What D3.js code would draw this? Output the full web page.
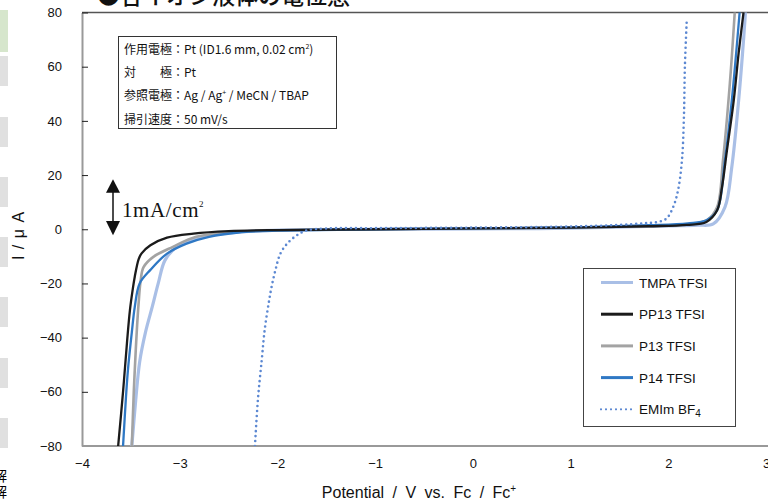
<!DOCTYPE html>
<html>
<head>
<meta charset="utf-8">
<script src="https://cdnjs.cloudflare.com/ajax/libs/d3/7.8.5/d3.min.js"></script>
<style>
  body { margin: 0; background: #fff; }
  svg { display: block; font-family: "Liberation Sans", Arial, sans-serif; }
  .jp { font-family: "Noto Sans CJK JP", sans-serif; }
</style>
</head>
<body>
<svg width="768" height="500"></svg>
<script>
// potential (V vs Fc/Fc+) and current (uA)
var tmpa = [[-3.49,-80],[-3.45,-63],[-3.41,-49],[-3.35,-38],[-3.28,-28.5],[-3.22,-20],[-3.15,-11.4],
            [-3.03,-6.5],[-2.83,-3.4],[-2.6,-1.8],[-2.2,-0.6],[-1.5,-0.1],[0,0.1],[1,0.4],[2,1.2],[2.3,1.5],
            [2.46,2],[2.58,8.2],[2.65,23],[2.72,47.6],[2.76,65],[2.79,80]];
var pp13 = [[-3.63,-80],[-3.58,-60],[-3.54,-42],[-3.51,-30],[-3.48,-22],[-3.46,-17.5],[-3.42,-11],[-3.39,-8.9],
            [-3.30,-5.9],[-3.13,-3.1],[-2.86,-1.6],[-2.5,-0.7],[-2.0,-0.3],[-1.0,0],[0,0.3],[1.0,0.6],[1.8,1.1],
            [2.19,1.6],[2.39,2.7],[2.50,7],[2.55,15.6],[2.60,29],[2.67,47.6],[2.72,65],[2.77,80]];
var p13 = [[-3.49,-80],[-3.47,-60],[-3.46,-52],[-3.44,-38],[-3.42,-27],[-3.40,-19],[-3.37,-14],[-3.27,-10.2],
           [-3.07,-6.5],[-2.83,-2.8],[-2.5,-1.2],[-2.0,-0.4],[-1,0],[0,0.3],[1,0.6],[1.8,1.2],[2.2,1.8],
           [2.4,3.5],[2.5,8.2],[2.56,25.5],[2.63,53.8],[2.68,80]];
var p14 = [[-3.58,-80],[-3.55,-62],[-3.53,-52],[-3.49,-38],[-3.46,-28.7],[-3.41,-20],[-3.30,-15],[-3.13,-9],
           [-2.93,-5.3],[-2.7,-2.8],[-2.4,-1.2],[-2.0,-0.5],[-1,0],[0,0.3],[1,0.7],[1.8,1.5],[2.2,2.2],
           [2.39,3.3],[2.50,7],[2.58,25.5],[2.65,47.6],[2.73,80]];
var emim = [[-2.23,-80],[-2.20,-63],[-2.16,-48],[-2.13,-37],[-2.09,-27.4],[-2.06,-21.3],[-2.02,-15],[-1.97,-9],
            [-1.90,-5.3],[-1.80,-2.2],[-1.70,-0.4],[-1.5,0.3],[-1,0.4],[0,0.6],[1,1.0],[1.5,1.6],[1.75,2.2],
            [1.88,2.6],[1.98,3.9],[2.05,8.2],[2.10,14.4],[2.14,25.5],[2.16,41.4],[2.17,60],[2.19,78]];

var names = ['TMPA TFSI', 'PP13 TFSI', 'P13 TFSI', 'P14 TFSI', 'EMIm BF'];
var xTicks = [-4, -3, -2, -1, 0, 1, 2, 3];
var yTicks = [-80, -60, -40, -20, 0, 20, 40, 60, 80];
var infoLines = ['作用電極：Pt (ID1.6 mm, 0.02 cm', '対　　極：Pt', '参照電極：Ag / Ag', '掃引速度：50 mV/s'];

var svg = d3.select('svg');

// page bits around the chart
var strip = [[10, 52, '#d6e6cc'], [56, 86], [117, 147], [177, 207], [237, 267], [297, 327], [358, 388], [418, 448]];
strip.forEach(function(s) {
    svg.append('rect').attr('x', 0).attr('y', s[0]).attr('width', 8).attr('height', s[1] - s[0])
        .attr('fill', s[2] || '#e0e0e0');
});
svg.append('text').attr('class', 'jp').attr('x', -7).attr('y', 481).attr('font-size', 14).text('解');
svg.append('text').attr('class', 'jp').attr('x', -7).attr('y', 497).attr('font-size', 14).text('解');
svg.append('text').attr('class', 'jp').attr('x', 97).attr('y', 4).attr('font-size', 23)
    .attr('font-weight', 500).attr('fill', '#111').text('●各イオン液体の電位窓');

var x = d3.scaleLinear().domain([-4, 3]).range([82, 766]);
var y = d3.scaleLinear().domain([-80, 80]).range([446, 12.5]);

svg.append('defs').append('clipPath').attr('id', 'plot')
  .append('rect').attr('x', 82).attr('y', 12.5).attr('width', 700).attr('height', 433.5);

// frame
svg.append('line').attr('x1', 82).attr('x2', 768).attr('y1', y(80)).attr('y2', y(80))
    .attr('stroke', '#555').attr('stroke-width', 1.5);

var yAxis = d3.axisLeft(y).tickValues(yTicks).tickSizeInner(-6).tickSizeOuter(0).tickPadding(20)
    .tickFormat(d3.format('d'));
var gy = svg.append('g').attr('transform', 'translate(82,0)').call(yAxis);
gy.select('.domain').attr('stroke', '#999').attr('stroke-width', 2);
gy.selectAll('.tick line').attr('stroke', '#222');
gy.selectAll('text').attr('font-size', 13).attr('fill', '#111').attr('font-family', '"Liberation Sans", Arial, sans-serif');

var xAxis = d3.axisBottom(x).tickValues(xTicks).tickSize(0).tickPadding(13).tickFormat(d3.format('d'));
var gx = svg.append('g').attr('transform', 'translate(0,' + y(-80) + ')').call(xAxis);
gx.select('.domain').attr('stroke', '#999').attr('stroke-width', 2).attr('d', 'M82,0H768');
gx.selectAll('text').attr('font-size', 13).attr('fill', '#111').attr('font-family', '"Liberation Sans", Arial, sans-serif');

// axis titles
svg.append('text').attr('transform', 'translate(24,236) rotate(-90)').attr('text-anchor', 'middle')
    .attr('font-size', 16).attr('word-spacing', 2).attr('fill', '#111').text('I / μ A');
var xl = svg.append('text').attr('x', 419).attr('y', 498).attr('text-anchor', 'middle')
    .attr('font-size', 16).attr('word-spacing', 4).attr('fill', '#111');
xl.append('tspan').text('Potential / V vs. Fc / Fc');
xl.append('tspan').attr('font-size', 10).attr('dy', -6).text('+');

// curves
var line = d3.line().x(function(d) { return x(d[0]); }).y(function(d) { return y(d[1]); })
    .curve(d3.curveCatmullRom.alpha(0.5));
var series = [
    {data: tmpa, color: '#a9bfe6', width: 3.2},
    {data: p13, color: '#a3a3a3', width: 2.6},
    {data: p14, color: '#2f78c4', width: 2.3},
    {data: pp13, color: '#1b1b1b', width: 2.3},
    {data: emim, color: '#5c88d2', width: 2.6, dash: '0 5'}
];
var gc = svg.append('g').attr('clip-path', 'url(#plot)');
series.forEach(function(s) {
    gc.append('path').datum(s.data).attr('d', line).attr('fill', 'none')
        .attr('stroke', s.color).attr('stroke-width', s.width)
        .attr('stroke-linecap', 'round').attr('stroke-linejoin', 'round')
        .attr('stroke-dasharray', s.dash || null);
});

// info box
svg.append('rect').attr('x', 118.5).attr('y', 36.5).attr('width', 218).attr('height', 92)
    .attr('fill', '#fff').attr('stroke', '#333').attr('stroke-width', 1);
infoLines.forEach(function(t, i) {
    var tx = svg.append('text').attr('class', 'jp').attr('x', 124).attr('y', 54 + i * 23.2)
        .attr('font-size', 12).attr('fill', '#111');
    tx.append('tspan').text(t);
    if (i === 0) {
        tx.append('tspan').attr('font-size', 7).attr('dy', -5).text('2');
        tx.append('tspan').attr('dy', 5).text(')');
    }
    if (i === 2) {
        tx.append('tspan').attr('font-size', 7).attr('dy', -5).text('+');
        tx.append('tspan').attr('dy', 5).text(' / MeCN / TBAP');
    }
});

// 1 mA/cm2 scale arrow (0.02 cm2 -> 20 uA)
var ax = 113;
svg.append('line').attr('x1', ax).attr('x2', ax).attr('y1', y(14)).attr('y2', y(2))
    .attr('stroke', '#111').attr('stroke-width', 1.5);
svg.append('path').attr('d', 'M' + ax + ',' + y(18.5) + 'L' + (ax - 7) + ',' + y(13.5) + 'L' + (ax + 7) + ',' + y(13.5) + 'Z')
    .attr('fill', '#111');
svg.append('path').attr('d', 'M' + ax + ',' + y(-2.2) + 'L' + (ax - 7) + ',' + y(3) + 'L' + (ax + 7) + ',' + y(3) + 'Z')
    .attr('fill', '#111');
var lab = svg.append('text').attr('x', 122).attr('y', 217).attr('font-size', 21)
    .attr('font-family', '"Liberation Serif", "Times New Roman", serif').attr('fill', '#111');
lab.append('tspan').attr('letter-spacing', 0.6).text('1mA/cm');
lab.append('tspan').attr('font-size', 9).attr('dy', -10).text('2');

// legend
svg.append('rect').attr('x', 583.5).attr('y', 268.5).attr('width', 152).attr('height', 158)
    .attr('fill', '#fff').attr('stroke', '#444').attr('stroke-width', 1);
names.forEach(function(n, i) {
    var s = series[[0, 3, 1, 2, 4][i]];
    var ly = 282.5 + i * 31.7;
    svg.append('line').attr('x1', 601).attr('x2', 633).attr('y1', ly).attr('y2', ly)
        .attr('stroke', s.color).attr('stroke-width', s.dash ? 2.2 : 3)
        .attr('stroke-linecap', s.dash ? 'round' : 'butt').attr('stroke-dasharray', s.dash || null);
    var t = svg.append('text').attr('x', 639).attr('y', ly + 5).attr('font-size', 13.5).attr('fill', '#111');
    t.append('tspan').text(n);
    if (i === 4) t.append('tspan').attr('font-size', 10).attr('dy', 3).text('4');
});
</script>
</body>
</html>
